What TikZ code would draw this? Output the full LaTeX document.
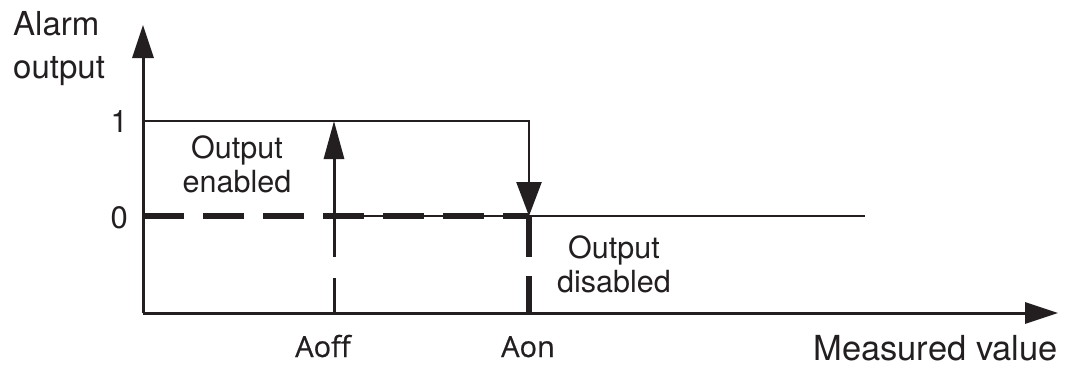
\documentclass[tikz,border=0pt]{standalone}
\usepackage{fontspec}
\setmainfont{TeX Gyre Heros}
\newfontfamily\labfont[FakeBold=0.7]{Open Sans}
\usetikzlibrary{arrows.meta}
\definecolor{ink}{HTML}{231F20}
\tikzset{
  axisline/.style={draw=ink, line width=3pt, -{Triangle[length=33pt,width=21pt]}},
  levelline/.style={draw=ink, line width=2.5pt, line join=miter},
  thinline/.style={draw=ink, line width=2pt},
  thickdash/.style={draw=ink, line width=6pt, dash pattern=on 41pt off 19pt},
  thindash/.style={draw=ink, line width=3pt, dash pattern=on 41pt off 21pt},
  txt/.style={text=ink, inner sep=0pt, font=\fontsize{33}{38}\selectfont, align=center},
  mid/.style={txt, font=\fontsize{30.5}{34}\selectfont},
  lab/.style={text=ink, inner sep=0pt, font=\labfont\fontsize{29}{33}\selectfont},
}
\begin{document}
\begin{tikzpicture}[x=1pt,y=-1pt]
\useasboundingbox (0,0) rectangle (1071,367);
\coordinate (O) at (143,313);
\coordinate (ytip) at (143,25);
\coordinate (xtip) at (1058,313);
\coordinate (y1) at (143,121);
\coordinate (y0) at (143,216);
\coordinate (on1) at (529,121);
\coordinate (on0) at (529,216);
\coordinate (off0) at (334,216);
\coordinate (off1) at (334,121);
\coordinate (offb) at (334,313);
\coordinate (onb) at (529,313);
\coordinate (end0) at (865,216);
% axes
\draw[axisline] (O) -- (ytip);
\draw[axisline] (O) -- (xtip);
% zero level
\draw[thinline] (off0) -- (end0);
\draw[thickdash] (y0) -- (on0);
% one level with falling arrow
\draw[levelline, -{Triangle[length=34pt,width=25pt]}] (y1) -- (on1) -- (on0);
% Aoff rising arrow
\draw[draw=ink, line width=3pt, -{Triangle[length=38pt,width=20pt]}] (off0) -- (off1);
\draw[thindash] (off0) -- (offb);
\draw[thickdash] (on0) -- (onb);
% texts
\node[txt, anchor=base west] (t1) at (13,35) {Alarm};
\node[txt, anchor=base west] (t2) at (13,78) {output};
\node[txt, font=\fontsize{31}{36}\selectfont, anchor=base east] (one) at (128,132) {1};
\node[txt, font=\fontsize{31}{36}\selectfont, anchor=base east] (zero) at (128,228) {0};
\node[mid, anchor=base] (en1) at (237,158) {Output};
\node[mid, anchor=base] (en2) at (237,192) {enabled};
\node[mid, anchor=base] (dis1) at (614,258) {Output};
\node[mid, anchor=base] (dis2) at (614,292) {disabled};
\node[lab, anchor=base] (aoff) at (323,357) {Aoff};
\node[lab, anchor=base] (aon) at (528,357) {Aon};
\node[txt, font=\fontsize{34.5}{38}\selectfont, anchor=base east] (mv) at (1058,360) {Measured value};
\end{tikzpicture}
\end{document}
